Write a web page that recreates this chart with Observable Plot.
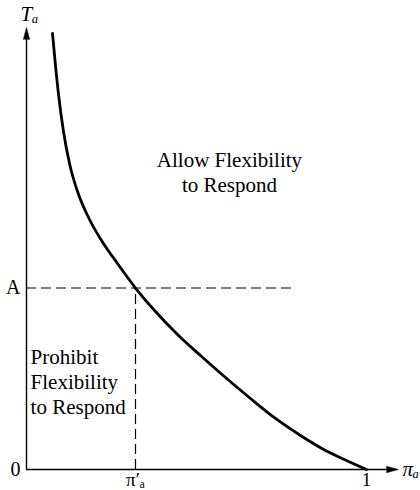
<!DOCTYPE html>
<html><head><meta charset="utf-8">
<script src="https://cdn.jsdelivr.net/npm/d3@7"></script>
<script src="https://cdn.jsdelivr.net/npm/@observablehq/plot@0.6"></script>
<style>
body{margin:0;background:#fff}
#chart svg, #chart svg text, #chart svg tspan { font-family: "Liberation Serif", "Times New Roman", serif !important; }
</style>
</head><body><div id="chart"></div>
<script>
// curve: T_a as a function of pi_a
const curvePi = [0.0765, 0.0853, 0.0956, 0.1088, 0.1265, 0.150, 0.1824, 0.2206, 0.2676, 0.3206, 0.3794, 0.4441, 0.5118, 0.5853, 0.6588, 0.7324, 0.8059, 0.8794, 0.9412, 1.0];
const curveT  = [9.864, 9.140, 8.394, 7.647, 6.923, 6.290, 5.701, 5.181, 4.661, 4.106, 3.575, 3.054, 2.579, 2.081, 1.606, 1.154, 0.769, 0.430, 0.204, 0.0];
const A = 4.106;
const piPrime = 0.3206;
const xTicks = [piPrime, 1];
const xTickLabels = ["π′ₐ", "1"];
const yTicks = [0, A];
const yTickLabels = ["0", "A"];
const upperLabel = "Allow Flexibility\nto Respond";
const lowerLabel = "Prohibit\nFlexibility\nto Respond";
const xAxisTitle = "πₐ";
const yAxisTitle = "Tₐ";

const curve = curvePi.map((p, i) => ({p, t: curveT[i]}));
const font = '"Liberation Serif", "Times New Roman", serif';

const chart = Plot.plot({
  width: 420, height: 490,
  marginLeft: 26, marginRight: 54, marginTop: 27, marginBottom: 21,
  style: {fontFamily: font, fontSize: "20px", background: "#fff", color: "#000"},
  x: {domain: [0, 1], axis: null},
  y: {domain: [0, 10], axis: null},
  marks: [
    // axes lines
    Plot.ruleX([0], {y1: 0, y2: 9.75, stroke: "black", strokeWidth: 1.4}),
    Plot.ruleY([0], {x1: 0, x2: 1.062, stroke: "black", strokeWidth: 1.4}),
    Plot.vector([{x: 0, y: 10}], {x: "x", y: "y", shape: "spike", anchor: "end", length: 12, r: 3.2, rotate: 0, fill: "black", stroke: "black", strokeWidth: 0.5}),
    Plot.vector([{x: 1.094, y: 0}], {x: "x", y: "y", shape: "spike", anchor: "end", length: 12, r: 3.2, rotate: 90, fill: "black", stroke: "black", strokeWidth: 0.5}),
    // dashed guides
    Plot.ruleY([A], {x1: 0, x2: 0.79, stroke: "black", strokeWidth: 1.2, strokeDasharray: "10,5"}),
    Plot.ruleX([piPrime], {y1: 0, y2: A, stroke: "black", strokeWidth: 1.2, strokeDasharray: "10,5"}),
    // curve
    Plot.line(curve, {x: "p", y: "t", curve: "monotone-x", stroke: "black", strokeWidth: 2.8}),
    // tick labels
    Plot.axisX(xTicks, {tickSize: 0, tickPadding: 3, tickFormat: (d, i) => xTickLabels[i], fontSize: 19, fontFamily: font, fontStyle: (d) => d === 1 ? "normal" : "italic"}),
    Plot.axisY(yTicks, {tickSize: 0, tickPadding: 6, tickFormat: (d, i) => yTickLabels[i], fontSize: 20, fontFamily: font}),
    // axis titles
    Plot.text([yAxisTitle], {x: 0, y: 10, dx: 3, dy: -13, text: d => d, fontSize: 21, fontStyle: "italic", fontFamily: font}),
    Plot.text([xAxisTitle], {x: 1.094, y: 0, dx: 4, text: d => d, textAnchor: "start", fontSize: 21, fontStyle: "italic", fontFamily: font}),
    // region labels
    Plot.text([upperLabel], {x: 0.597, y: 6.75, text: d => d, fontSize: 21, lineHeight: 1.19, fontFamily: font}),
    Plot.text([lowerLabel], {x: 0.012, y: 2.01, text: d => d, textAnchor: "start", fontSize: 21, lineHeight: 1.19, fontFamily: font})
  ]
});
document.getElementById("chart").appendChild(chart);
</script>
</body></html>
